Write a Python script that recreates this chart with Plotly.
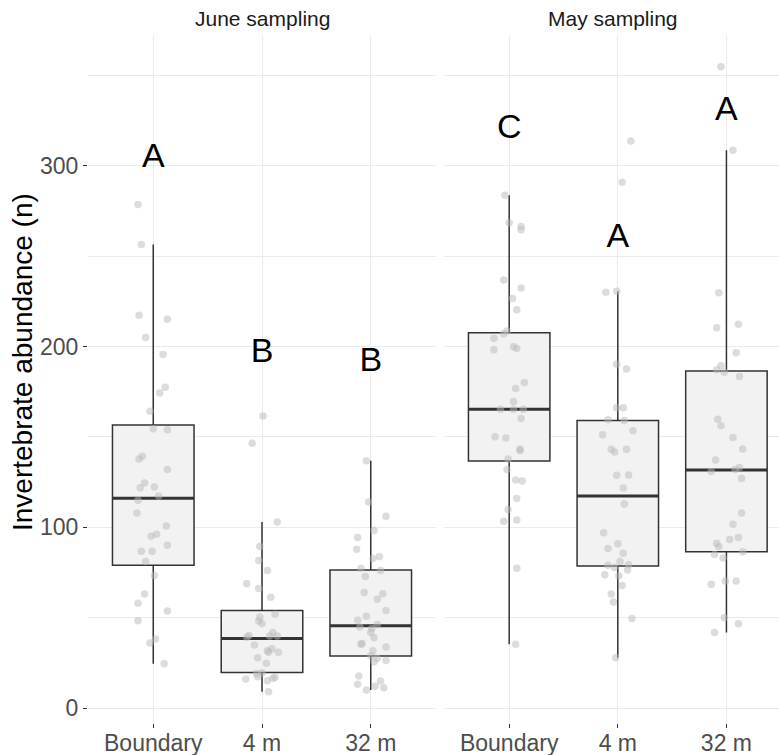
import plotly.graph_objects as go

# ---- data -------------------------------------------------------------
categories = ["Boundary", "4 m", "32 m"]
panels = ["June sampling", "May sampling"]

# abundance per sample, with the horizontal jitter used to spread the dots
june_boundary = [278.5, 256.4, 217.3, 215.1, 205.0, 195.6, 177.5, 174.2, 164.1, 154.5,
                 153.9, 139.2, 137.7, 131.9, 124.5, 121.9, 122.3, 117.3, 114.9, 107.9,
                 100.7, 96.1, 95.0, 90.1, 86.7, 86.7, 81.0, 73.3, 63.0, 58.0,
                 53.6, 48.2, 38.1, 35.9, 24.5]
june_boundary_jit = [-0.14, -0.11, -0.13, 0.13, -0.07, 0.09, 0.11, 0.06, -0.03, 0.00,
                     0.13, -0.10, -0.13, 0.13, -0.08, -0.12, 0.01, 0.05, -0.14, -0.15,
                     0.12, 0.03, -0.02, 0.13, -0.11, -0.01, -0.07, 0.01, -0.08, -0.14,
                     0.13, -0.14, 0.02, -0.03, 0.10]

june_4m = [161.5, 146.4, 102.9, 89.3, 81.6, 76.1, 68.7, 66.1, 61.2, 51.8,
           50.3, 48.1, 46.8, 39.2, 40.1, 41.8, 39.8, 39.8, 34.8, 32.8,
           31.7, 30.8, 30.8, 27.8, 24.7, 19.1, 19.5, 17.3, 16.0, 17.0,
           16.4, 15.1, 9.0]
june_4m_jit = [0.01, -0.09, 0.14, -0.02, -0.03, 0.05, -0.14, -0.03, 0.08, 0.12,
               -0.02, -0.03, 0.00, -0.14, -0.12, 0.10, 0.07, 0.14, -0.07, 0.09,
               0.05, 0.06, 0.15, -0.04, 0.04, -0.05, 0.00, -0.04, -0.15, 0.12,
               0.10, 0.05, 0.06]

june_32m = [136.8, 114.0, 106.1, 98.2, 94.3, 87.8, 82.7, 83.8, 77.3, 76.1,
            72.7, 63.9, 63.2, 60.2, 54.0, 50.8, 48.6, 46.2, 44.8, 44.0,
            41.8, 38.9, 35.7, 35.2, 33.7, 31.7, 28.9, 27.4, 26.3, 25.6,
            17.7, 13.1, 14.9, 12.0, 11.2, 9.9]
june_32m_jit = [-0.04, -0.02, 0.14, 0.03, -0.12, -0.13, 0.02, 0.08, -0.09, 0.09,
                -0.05, -0.06, 0.11, 0.06, 0.14, -0.04, -0.12, 0.06, -0.10, 0.01,
                0.00, 0.03, -0.08, -0.09, 0.14, 0.02, 0.00, 0.06, 0.14, 0.03,
                -0.11, -0.12, 0.09, 0.04, 0.12, -0.04]

may_boundary = [283.6, 268.5, 266.3, 264.6, 236.8, 232.4, 226.5, 220.3, 208.5, 207.0,
                204.6, 198.2, 199.8, 198.9, 180.1, 176.8, 169.5, 165.2, 165.2, 165.2,
                160.2, 150.1, 149.3, 143.1, 142.5, 137.7, 131.9, 126.1, 125.6, 115.9,
                109.8, 103.3, 104.0, 77.3, 35.2]
may_boundary_jit = [-0.04, 0.00, 0.11, 0.11, -0.05, 0.11, 0.03, 0.07, -0.02, -0.05,
                    -0.14, -0.14, 0.04, 0.07, 0.14, 0.06, 0.04, -0.08, 0.04, 0.13,
                    0.11, -0.13, -0.03, 0.10, 0.10, -0.01, -0.02, 0.06, 0.12, 0.07,
                    -0.01, -0.05, 0.07, 0.07, 0.06]

may_4m = [313.6, 290.8, 230.0, 230.6, 190.2, 187.6, 166.1, 166.1, 159.5, 159.0,
          153.4, 151.2, 143.1, 141.6, 143.1, 128.7, 128.9, 121.7, 112.9, 97.0,
          88.2, 90.8, 85.6, 81.0, 79.0, 77.7, 79.2, 76.4, 73.7, 73.2,
          67.8, 63.0, 58.6, 49.5, 27.8]
may_4m_jit = [0.12, 0.04, -0.11, -0.01, -0.01, 0.08, -0.01, 0.05, -0.09, 0.06,
              0.14, -0.14, -0.06, -0.03, 0.08, -0.01, 0.10, 0.05, 0.06, -0.13,
              -0.09, 0.00, 0.05, 0.02, -0.09, -0.03, 0.10, 0.09, -0.12, 0.01,
              0.04, -0.06, -0.04, 0.13, -0.02]

may_32m = [354.7, 308.5, 229.7, 210.3, 212.3, 196.5, 189.3, 187.1, 185.8, 183.4,
           159.8, 156.2, 149.7, 143.3, 137.2, 133.1, 131.9, 130.8, 126.9, 107.9,
           101.7, 93.2, 94.3, 91.2, 89.3, 84.9, 83.0, 86.5, 68.5, 70.2,
           70.3, 49.9, 46.6, 41.8]
may_32m_jit = [-0.05, 0.06, -0.07, -0.09, 0.11, 0.09, -0.05, -0.09, -0.02, 0.12,
               -0.08, -0.05, 0.06, 0.15, -0.10, 0.12, 0.08, -0.14, 0.14, 0.14,
               0.06, 0.03, 0.11, -0.09, -0.07, -0.11, -0.03, 0.15, -0.14, -0.01,
               0.09, -0.02, 0.11, -0.11]

# box summaries: lower whisker, Q1, median, Q3, upper whisker
june_stats = [
    [24.5, 79.0, 116.0, 156.5, 256.4],
    [9.0, 19.7, 38.5, 54.0, 102.9],
    [9.9, 28.7, 45.5, 76.4, 136.8],
]
may_stats = [
    [35.2, 136.6, 165.2, 207.6, 283.6],
    [27.8, 78.6, 117.3, 159.1, 230.6],
    [41.8, 86.4, 131.7, 186.4, 308.5],
]

# significance letters and their heights
june_letters = ["A", "B", "B"]
june_letter_y = [304, 196, 191]
may_letters = ["C", "A", "A"]
may_letter_y = [320, 260, 330]

june_points = [(june_boundary, june_boundary_jit), (june_4m, june_4m_jit), (june_32m, june_32m_jit)]
may_points = [(may_boundary, may_boundary_jit), (may_4m, may_4m_jit), (may_32m, may_32m_jit)]

# ---- figure -----------------------------------------------------------
W, H = 779, 755
FONT = "Liberation Sans, Arial, Helvetica, sans-serif"
GRID = "#EBEBEB"
BOX_LINE = "#333333"
BOX_FILL = "#F2F2F2"
DOT = "rgba(185,185,185,0.5)"
BOX_W = 0.75

fig = go.Figure()

panel_data = [
    ("x", "y", june_stats, june_points, june_letters, june_letter_y),
    ("x2", "y2", may_stats, may_points, may_letters, may_letter_y),
]

for xa, ya, stats, pts, letters, letter_y in panel_data:
    for i, (st, (vals, jit)) in enumerate(zip(stats, pts)):
        pos = i + 1
        lo, q1, med, q3, hi = st
        fig.add_trace(go.Box(
            x=[pos], q1=[q1], median=[med], q3=[q3],
            lowerfence=[lo], upperfence=[hi],
            width=BOX_W, whiskerwidth=0,
            fillcolor=BOX_FILL, line=dict(color=BOX_LINE, width=1.5),
            boxpoints=False, hoverinfo="skip", showlegend=False,
            xaxis=xa, yaxis=ya,
        ))
        # heavier median bar
        fig.add_trace(go.Scatter(
            x=[pos - BOX_W / 2, pos + BOX_W / 2], y=[med, med],
            mode="lines", line=dict(color=BOX_LINE, width=3),
            hoverinfo="skip", showlegend=False, xaxis=xa, yaxis=ya,
        ))
        fig.add_trace(go.Scatter(
            x=[pos + j for j in jit], y=vals, mode="markers",
            marker=dict(color=DOT, size=7.5, line=dict(width=0)),
            hoverinfo="skip", showlegend=False, xaxis=xa, yaxis=ya,
        ))
    fig.add_trace(go.Scatter(
        x=[1, 2, 3], y=letter_y, mode="text", text=letters,
        textfont=dict(family=FONT, size=34, color="black"),
        textposition="middle center",
        hoverinfo="skip", showlegend=False, xaxis=xa, yaxis=ya,
    ))

y_bottom = (H - 723) / H
y_top = (H - 35) / H

TICK_FONT = dict(family=FONT, size=23, color="#4D4D4D")

common_x = dict(
    tickmode="array", tickvals=[1, 2, 3], ticktext=categories,
    showgrid=True, gridcolor=GRID, gridwidth=1.1,
    zeroline=False, showline=False, automargin=False,
    ticks="outside", ticklen=4, tickwidth=1, tickcolor="#333333",
    tickfont=TICK_FONT, ticklabelstandoff=-5,
)
common_y = dict(
    range=[-8.3, 372.3], domain=[y_bottom, y_top],
    tickmode="linear", tick0=0, dtick=100,
    showgrid=True, gridcolor=GRID, gridwidth=1.1,
    minor=dict(tick0=50, dtick=100, showgrid=True, gridcolor=GRID, gridwidth=0.6),
    zeroline=False, showline=False, automargin=False,
)

fig.update_layout(
    width=W, height=H,
    margin=dict(l=0, r=0, t=0, b=0),
    paper_bgcolor="white", plot_bgcolor="white",
    font=dict(family=FONT),
    xaxis=dict(**common_x, domain=[88 / W, 436 / W], range=[0.4, 3.6], anchor="y"),
    xaxis2=dict(**common_x, domain=[444 / W, 1.0], range=[0.4, 3.484], anchor="y2"),
    yaxis=dict(**common_y, anchor="x",
               ticks="outside", ticklen=4, tickwidth=1, tickcolor="#333333",
               tickfont=TICK_FONT),
    yaxis2=dict(**common_y, anchor="x2", matches="y", showticklabels=False, ticks=""),
    annotations=[
        dict(text=panels[0], x=(88 + 436) / 2 / W, y=(H - 18) / H,
             xref="paper", yref="paper", showarrow=False,
             xanchor="center", yanchor="middle",
             font=dict(family=FONT, size=21, color="#1A1A1A")),
        dict(text=panels[1], x=613 / W, y=(H - 18) / H,
             xref="paper", yref="paper", showarrow=False,
             xanchor="center", yanchor="middle",
             font=dict(family=FONT, size=21, color="#1A1A1A")),
        dict(text="Invertebrate abundance (n)", x=22 / W, y=(H - 362) / H,
             xref="paper", yref="paper", showarrow=False, textangle=-90,
             xanchor="center", yanchor="middle",
             font=dict(family=FONT, size=28, color="black")),
    ],
)

fig.write_html("out.html")
